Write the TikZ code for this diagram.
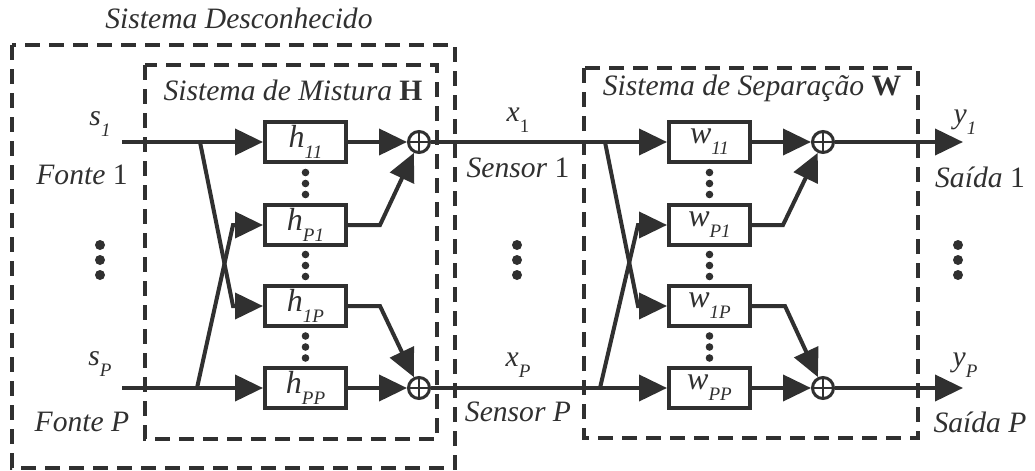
\documentclass[tikz,border=0pt]{standalone}
\usepackage{fontspec}
\setmainfont{Liberation Serif}
\usetikzlibrary{arrows.meta, positioning}

\definecolor{ink}{HTML}{303030}
% coefficient with a lowered index
\newcommand{\coef}[2]{\textit{#1}\raisebox{-5.5pt}{\fontsize{9.5}{10}\selectfont\itshape #2}}
\newcommand{\coefup}[2]{\textit{#1}\raisebox{-5.5pt}{\fontsize{9.5}{10}\selectfont\upshape #2}}

\begin{document}
\begin{tikzpicture}[
   x=0.5pt, y=-0.5pt,
   color=ink, line width=2pt,
   font=\fontsize{14.8}{17}\selectfont,
   sig/.style = {-{Triangle[length=14pt, width=13pt]}},
   blk/.style = {draw, rectangle, minimum width=40.5pt, minimum height=20pt, inner sep=0pt,
      font=\fontsize{16}{18}\selectfont},
   sum/.style = {draw, circle, line width=1.5pt, minimum size=10.5pt, inner sep=0pt,
      path picture={\draw[line width=1.3pt]
         (path picture bounding box.north) -- (path picture bounding box.south)
         (path picture bounding box.west) -- (path picture bounding box.east);}},
   frame/.style = {draw, line width=1.8pt, dash pattern=on 7.5pt off 4.5pt},
   lbl/.style = {inner sep=0pt, font=\fontsize{14.8}{17}\selectfont\itshape}]
   \useasboundingbox (0,0) rectangle (1035,471);

   % frames
   \draw[frame] (12,45) rectangle (455,468);
   \draw[frame] (145,65) rectangle (437,439);
   \draw[frame] (584,68) rectangle (918,438);
   \node[lbl] (unk) at (239,18) {Sistema Desconhecido};
   \node[lbl] (mixlbl) at (293,90) {Sistema de Mistura \textbf{\upshape H}};
   \node[lbl] (seplbl) at (752,88) {Sistema de Separação \textbf{\upshape W}};

   % mixing blocks
   \node[blk] (h11) at (305.5,142) {\coef{h}{11}};
   \node[blk] (hP1) at (305.5,225) {\coef{h}{P1}};
   \node[blk] (h1P) at (305.5,306) {\coef{h}{1P}};
   \node[blk] (hPP) at (305.5,388) {\coef{h}{PP}};
   \node[sum] (mix1) at (419,142) {};
   \node[sum] (mixP) at (419,388) {};

   % separation blocks
   \node[blk] (w11) at (709.5,142) {\coef{w}{11}};
   \node[blk] (wP1) at (709.5,225) {\coef{w}{P1}};
   \node[blk] (w1P) at (709.5,306) {\coef{w}{1P}};
   \node[blk] (wPP) at (709.5,388) {\coef{w}{PP}};
   \node[sum] (sep1) at (823,142) {};
   \node[sum] (sepP) at (823,388) {};

   % branch points
   \coordinate (in1) at (122,142);
   \coordinate (inP) at (122,388);
   \coordinate (b1) at (200,142);
   \coordinate (bP) at (197,388);
   \coordinate (k1) at (233,306);
   \coordinate (kP) at (233,225);
   \coordinate (c1) at (605,142);
   \coordinate (cP) at (600,388);
   \coordinate (m1) at (638,306);
   \coordinate (mP) at (638,225);
   \coordinate (out1) at (963,142);
   \coordinate (outP) at (963,388);

   % sources into H
   \draw (in1) -- (b1);
   \draw (inP) -- (bP);
   \draw[sig] (b1) -- (h11);
   \draw[sig] (b1) -- (k1) -- (h1P);
   \draw[sig] (bP) -- (hPP);
   \draw[sig] (bP) -- (kP) -- (hP1);
   \draw[sig] (h11) -- (mix1);
   \draw[sig] (hP1.east) -- ++(32,0) -- (mix1);
   \draw[sig] (h1P.east) -- ++(32,0) -- (mixP);
   \draw[sig] (hPP) -- (mixP);

   % sensors into W
   \draw (mix1) -- (c1);
   \draw (mixP) -- (cP);
   \draw[sig] (c1) -- (w11);
   \draw[sig] (c1) -- (m1) -- (w1P);
   \draw[sig] (cP) -- (wPP);
   \draw[sig] (cP) -- (mP) -- (wP1);
   \draw[sig] (w11) -- (sep1);
   \draw[sig] (wP1.east) -- ++(31,0) -- (sep1);
   \draw[sig] (w1P.east) -- ++(33,0) -- (sepP);
   \draw[sig] (wPP) -- (sepP);
   \draw[sig] (sep1) -- (out1);
   \draw[sig] (sepP) -- (outP);

   % signal names
   \node[lbl] (s1) at (100,124) {\coef{s}{1}};
   \node[lbl] (sP) at (100,364) {\coef{s}{P}};
   \node[lbl] (f1) at (82,175) {Fonte \upshape 1};
   \node[lbl] (fP) at (82,422) {Fonte P};
   \node[lbl] (x1) at (518,120) {\coefup{x}{1}};
   \node[lbl] (xP) at (518,365) {\coef{x}{P}};
   \node[lbl] (se1) at (518,168) {Sensor \upshape 1};
   \node[lbl] (seP) at (518,412) {Sensor P};
   \node[lbl] (y1) at (965,122) {\coef{y}{1}};
   \node[lbl] (yP) at (965,365) {\coef{y}{P}};
   \node[lbl] (sa1) at (980,177) {Saída \upshape 1};
   \node[lbl] (saP) at (980,422) {Saída P};

   % dots
   \foreach \x in {100, 517, 958}
      \foreach \y in {245, 260, 275}
         \fill (\x,\y) circle (2.5pt);
   \foreach \x in {305.5, 709.5}
      \foreach \y in {183.5, 265.5, 347}
         \foreach \d in {-11, 0, 11}
            \fill (\x,{\y+\d}) circle (1.9pt);
\end{tikzpicture}
\end{document}
